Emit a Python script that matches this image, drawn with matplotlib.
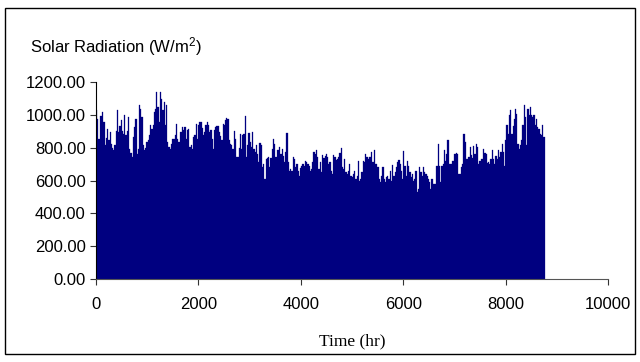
import matplotlib
matplotlib.use("Agg")
import matplotlib.pyplot as plt
import numpy as np
from matplotlib.patches import Rectangle

plt.rcParams["font.family"] = ["Liberation Sans", "DejaVu Sans"]
plt.rcParams["mathtext.fontset"] = "custom"
plt.rcParams["mathtext.rm"] = "Liberation Sans"
plt.rcParams["mathtext.it"] = "Liberation Sans"

# Daily peak solar radiation (W/m^2), one value per day of the year
peaks_jan_mar = [
    1030, 976, 854, 990, 990, 1017, 956, 814, 860, 915, 844, 895, 824, 800, 783,
    814, 900, 1027, 895, 930, 966, 900, 885, 997, 875, 900, 986, 793, 770, 742,
    864, 925, 976, 763, 793, 1062, 1037, 986, 814, 783, 800, 834, 844, 880, 940,
    915, 936, 1017, 1037, 1139, 1047, 956, 1139, 1098, 1027, 1078, 936, 1058, 834,
    803, 793, 824, 850, 854, 875, 946, 854, 834, 895, 895, 925, 905,
]
peaks_mar_may = [
    925, 854, 905, 915, 803, 814, 793, 864, 875, 946, 854, 936, 956, 956, 920,
    875, 895, 936, 956, 936, 895, 905, 854, 793, 905, 925, 932, 932, 895, 870,
    844, 946, 936, 966, 980, 976, 844, 824, 818, 793, 899, 854, 742, 742, 800,
    885, 793, 875, 885, 990, 742, 814, 891, 834, 803, 895, 793, 773, 814, 760,
    712, 830, 814, 681, 702, 610, 732, 736, 742, 681, 740, 793, 854, 824,
]
peaks_may_aug = [
    742, 783, 783, 803, 763, 793, 750, 712, 773, 891, 712, 661, 671, 661, 742,
    732, 681, 702, 660, 630, 675, 691, 702, 691, 718, 712, 702, 690, 661, 671,
    712, 773, 763, 783, 742, 671, 712, 651, 753, 740, 748, 763, 742, 702, 712,
    661, 641, 757, 742, 728, 732, 742, 770, 799, 681, 671, 732, 651, 641, 661,
    702, 630, 620, 640, 661, 610, 630, 716, 600, 610, 655, 718, 712,
]
peaks_aug_oct = [
    763, 742, 732, 742, 742, 773, 712, 783, 702, 702, 680, 610, 590, 630, 681,
    610, 590, 620, 626, 610, 661, 600, 696, 630, 650, 681, 712, 728, 702, 661,
    610, 777, 691, 630, 722, 691, 651, 620, 641, 600, 610, 661, 529, 549, 681,
    651, 630, 685, 651, 641, 626, 610, 590, 549, 610, 580, 580, 580, 691, 824,
    691, 590, 691, 702, 783, 722, 760, 844, 702, 702, 702, 722, 763,
]
peaks_oct_dec = [
    763, 769, 763, 641, 641, 681, 700, 885, 834, 732, 732, 742, 803, 753, 736,
    809, 763, 824, 803, 702, 720, 732, 732, 793, 769, 763, 708, 712, 702, 732,
    783, 732, 702, 750, 732, 783, 742, 773, 824, 773, 691, 844, 940, 885, 997,
    1027, 885, 930, 976, 1037, 1007, 824, 793, 814, 844, 936, 1062, 986, 814,
    1037, 997, 1047, 1000, 986, 997, 936, 976, 925, 915, 885, 875, 936, 864,
]

daily_peaks = np.array(
    peaks_jan_mar + peaks_mar_may + peaks_may_aug + peaks_aug_oct + peaks_oct_dec,
    dtype=float,
)
hours_per_day = 24
day_noon = np.arange(len(daily_peaks)) * hours_per_day + hours_per_day / 2

y_ticks = [0, 200, 400, 600, 800, 1000, 1200]
x_ticks = [0, 2000, 4000, 6000, 8000, 10000]

fig = plt.figure(figsize=(6.4, 3.62), dpi=100)
ax = fig.add_axes([0.15, 0.229, 0.8, 0.5445])

ax.bar(day_noon, daily_peaks, width=hours_per_day, color="#000080",
       edgecolor="#000080", linewidth=0.2)

ax.set_xlim(0, 10000)
ax.set_ylim(0, 1200)
ax.set_xticks(x_ticks)
ax.set_yticks(y_ticks)
ax.set_yticklabels([f"{v:.2f}" for v in y_ticks])
ax.tick_params(axis="both", labelsize=12, length=4, width=0.8,
               color="#333333", direction="out")
ax.tick_params(axis="x", pad=9)
for side in ("top", "right"):
    ax.spines[side].set_visible(False)
ax.spines["left"].set_color("#000000")
ax.spines["bottom"].set_color("#555555")
ax.spines["left"].set_linewidth(0.8)
ax.spines["bottom"].set_linewidth(0.8)

ax.set_xlabel("Time (hr)", family=["Liberation Serif", "DejaVu Serif"],
              fontsize=12.5, labelpad=15)

fig.text(30 / 640, 1 - 47 / 362, "Solar Radiation (W/m$^{2}$)",
         fontsize=12, ha="left", va="center")

# Outer frame around the chart
fig.patches.append(Rectangle((5 / 640, 1 - 354 / 362), 630 / 640, 346 / 362,
                             transform=fig.transFigure, fill=False,
                             edgecolor="black", linewidth=1.0))

fig.savefig("out.png", dpi=100)
